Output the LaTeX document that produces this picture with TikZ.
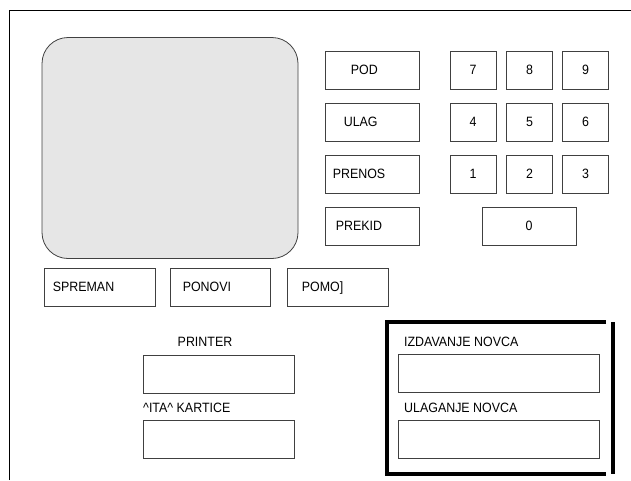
\documentclass[tikz,border=0pt]{standalone}
\usepackage{fontspec}
\setmainfont{Liberation Sans}[FakeStretch=0.92]
\usetikzlibrary{positioning}
\definecolor{atmgray}{RGB}{230, 230, 230}
\definecolor{atmline}{RGB}{64, 64, 64}
\tikzset{
  btn/.style={rectangle, draw=atmline, line width=0.8pt, inner sep=0pt,
              minimum width=#1, minimum height=38pt, font=\atmfont},
  btn/.default=94pt,
  key/.style={btn=46pt},
  slot/.style={btn=#1},
  slot/.default=151pt,
  lbl/.style={inner sep=0pt, anchor=west, font=\atmfont,
              text height=9.7pt, text depth=0pt},
  heavy/.style={line width=4pt},
}
\newcommand{\atmfont}{\fontsize{13.5}{15}\selectfont}

\begin{document}
\begin{tikzpicture}[x=1pt, y=-1pt]
  \useasboundingbox (0,0) rectangle (631,480);
  \draw[line width=0.8pt] (9,480) |- (631,10);

  % screen
  \node[rectangle, rounded corners=26pt, draw=atmline, fill=atmgray, line width=0.8pt,
        minimum width=256pt, minimum height=221pt] (screen) at (170,148) {};

  % function buttons
  \node[btn] (pod) at (372,70) {};
  \node[btn] (ulag) at (372,122) {};
  \node[btn] (prenos) at (372,174) {};
  \node[btn] (prekid) at (372,226) {};
  \node[lbl, right=26pt of pod.west] (podt) {POD};
  \node[lbl, right=19pt of ulag.west] (ulagt) {ULAG};
  \node[lbl, right=8pt of prenos.west] (prenost) {PRENOS};
  \node[lbl, right=11pt of prekid.west] (prekidt) {PREKID};

  % keypad
  \node[key] (k7) at (473,70) {7};
  \node[key] (k8) at (529.5,70) {8};
  \node[key] (k9) at (585.5,70) {9};
  \node[key] (k4) at (473,122) {4};
  \node[key] (k5) at (529.5,122) {5};
  \node[key] (k6) at (585.5,122) {6};
  \node[key] (k1) at (473,174) {1};
  \node[key] (k2) at (529.5,174) {2};
  \node[key] (k3) at (585.5,174) {3};
  \node[btn] (k0) at (529,226) {0};

  % status buttons
  \node[btn=111pt] (spreman) at (99.5,287) {};
  \node[btn=100pt] (ponovi) at (220,287) {};
  \node[btn=101pt] (pomoc) at (337.5,287) {};
  \node[lbl, right=9pt of spreman.west] (spremant) {SPREMAN};
  \node[lbl, right=13pt of ponovi.west] (ponovit) {PONOVI};
  \node[lbl, right=15pt of pomoc.west] (pomoct) {POMO]};

  % printer and card reader
  \node[slot] (printer) at (218.5,374) {};
  \node[slot] (citac) at (218.5,439.5) {};
  \node[lbl, anchor=center] (printert) at (205,342) {PRINTER};
  \node[lbl] (citact) at (143,408) {\^{}ITA\^{} KARTICE};

  % money in/out
  \node[slot=201pt] (izdavanje) at (498.5,373.5) {};
  \node[slot=201pt] (ulaganje) at (498.5,439.5) {};
  \node[lbl] (izdavanjet) at (404,342) {IZDAVANJE NOVCA};
  \node[lbl] (ulaganjet) at (404,408) {ULAGANJE NOVCA};
  \draw[heavy] (606,322) -- (387,322) -- (387,474) -- (606,474);
  \draw[heavy] (612.5,322) -- (612.5,474);
\end{tikzpicture}
\end{document}
